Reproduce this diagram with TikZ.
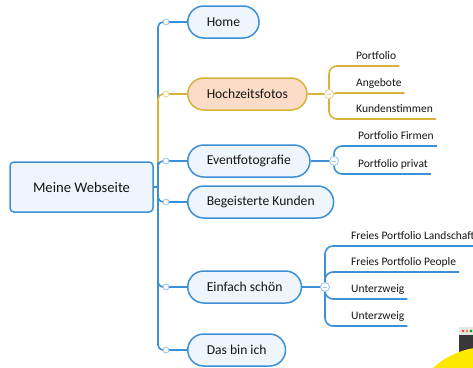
\documentclass[tikz,border=0pt]{standalone}
\usepackage{fontspec}
\setmainfont{Carlito}
\definecolor{xblue}{HTML}{3D90D6}
\definecolor{xfill}{HTML}{EEF5FC}
\definecolor{xgold}{HTML}{D8B23C}
\definecolor{xpeach}{HTML}{FCDCC6}
\definecolor{xtext}{HTML}{151515}
\definecolor{xyellow}{HTML}{FFE800}
\tikzset{
	main/.style={draw=xblue, line width=1.5pt, fill=xfill, rounded corners=16pt, minimum height=32pt, inner xsep=19pt, anchor=west, text=xtext, font=\fontsize{13.6}{16}\selectfont},
	gold/.style={draw=xgold, fill=xpeach},
	bline/.style={xblue, line width=1.6pt},
	yline/.style={xgold, line width=1.6pt},
	knob/.style={circle, draw=xblue!55, fill=white, line width=0.8pt, minimum size=6pt, inner sep=0pt},
	subknob/.style={knob, draw=#1, minimum size=9pt, path picture={\draw[#1, line width=0.7pt] ([xshift=-2pt]path picture bounding box.center) -- ([xshift=2pt]path picture bounding box.center);}},
	subknob/.default=xblue!55,
	leaf/.style={anchor=south west, inner xsep=0pt, inner ysep=4pt, text height=8pt, text depth=2pt, text=xtext, font=\fontsize{11.5}{13}\selectfont},
}
\begin{document}
\begin{tikzpicture}[x=1pt,y=1pt,yscale=-1,xscale=1]
	\path[use as bounding box, clip] (0,0) rectangle (473,367);
	\fill[white] (0,0) rectangle (473,367);
	\fill[black!78, rounded corners=2pt] (459,327) rectangle (480,380);
	\fill[black!10] (459,327) rectangle (480,335);
	\fill[red!80] (463,331) circle (1.3);
	\fill[orange] (467,331) circle (1.3);
	\fill[green!60!black] (471,331) circle (1.3);
	\fill[xyellow] (487,427) circle (80);
	\node[draw=xblue, line width=1.5pt, fill=xfill, rounded corners=4pt, minimum width=143pt, minimum height=50pt, text=xtext, font=\fontsize{14.6}{17}\selectfont] (root) at (81.5,187) {Meine Webseite};
	\node[main] (home) at (187,22) {Home};
	\node[main, gold] (hoch) at (187,94) {Hochzeitsfotos};
	\node[main] (event) at (187,161) {Eventfotografie};
	\node[main] (kunden) at (187,202) {Begeisterte Kunden};
	\node[main] (einfach) at (187,287) {Einfach schön};
	\node[main] (dasbin) at (187,350) {Das bin ich};
	\coordinate (trunk) at (158,187);
	\coordinate (yfork) at (158,162);
	\draw[bline] (root.east) -- (trunk);
	\foreach \n in {home,event,kunden,einfach,dasbin}
		\draw[bline, rounded corners=5pt] (trunk) |- (\n.west);
	\draw[yline, rounded corners=5pt] (yfork) |- (hoch.west);
	\foreach \n in {home,event,kunden,einfach,dasbin}
		\node[knob] at ([xshift=-21pt]\n.west) {};
	\node[knob, draw=xgold!55] at ([xshift=-21pt]hoch.west) {};
	\node[leaf] (portfolio) at (356,66) {Portfolio};
	\node[leaf] (angebote) at (356,93) {Angebote};
	\node[leaf] (kundenst) at (356,119) {Kundenstimmen};
	\node[leaf] (firmen) at (358,146) {Portfolio Firmen};
	\node[leaf] (privat) at (358,174) {Portfolio privat};
	\node[leaf] (landschaft) at (351,246) {Freies Portfolio Landschaft};
	\node[leaf] (people) at (351,272) {Freies Portfolio People};
	\node[leaf] (unter1) at (351,299) {Unterzweig};
	\node[leaf] (unter2) at (351,326) {Unterzweig};
	\coordinate (kh) at (329,94);
	\coordinate (ke) at (334,161);
	\coordinate (ks) at (325,287);
	\draw[yline] (hoch.east) -- (kh);
	\foreach \n in {portfolio,angebote,kundenst}
		\draw[yline, rounded corners=8pt] (kh) |- ([xshift=3pt]\n.south east);
	\draw[bline] (event.east) -- (ke);
	\foreach \n in {firmen,privat}
		\draw[bline, rounded corners=8pt] (ke) |- ([xshift=3pt]\n.south east);
	\draw[bline] (einfach.east) -- (ks);
	\foreach \n in {landschaft,people,unter1,unter2}
		\draw[bline, rounded corners=8pt] (ks) |- ([xshift=3pt]\n.south east);
	\node[subknob=xgold!55] at (kh) {};
	\node[subknob] at (ke) {};
	\node[subknob] at (ks) {};
\end{tikzpicture}
\end{document}
